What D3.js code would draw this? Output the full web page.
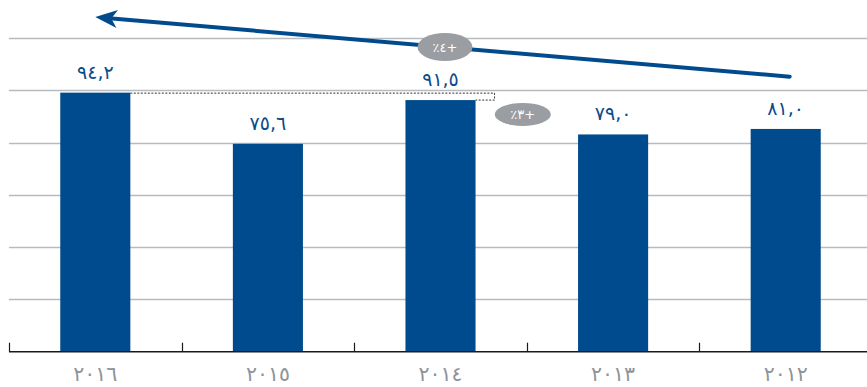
<!DOCTYPE html>
<html>
<head>
<meta charset="utf-8">
<script src="https://cdn.jsdelivr.net/npm/d3@7"></script>
<style>
  html, body { margin: 0; padding: 0; background: #ffffff; }
  svg { display: block; }
  text { font-family: "DejaVu Sans", "Noto Sans", sans-serif; }
</style>
</head>
<body>
<svg id="chart" width="867" height="387"></svg>
<script>
// Years, left to right
const years = ["٢٠١٦", "٢٠١٥", "٢٠١٤", "٢٠١٣", "٢٠١٢"];
// Values per year
const values = [94.2, 75.6, 91.5, 79.0, 81.0];
// Value labels as printed above the bars
const valueLabels = ["٩٤,٢", "٧٥,٦", "٩١,٥", "٧٩,٠", "٨١,٠"];
// Horizontal gridline values
const gridTicks = [19, 38, 57, 76, 95, 114];
// Growth badges
const badgeTexts = ["٪٤+", "٪٣+"];

const W = 867, H = 387;
const margin = { left: 9, right: -5, top: 38.2, bottom: 35.3 };

const svg = d3.select("#chart");

const x = d3.scaleBand()
  .domain(years)
  .range([margin.left, W - margin.right])
  .paddingInner(0.594)
  .paddingOuter(0.297);

const y = d3.scaleLinear()
  .domain([0, 114])
  .range([H - margin.bottom, margin.top]);

const blue = "#004b8d";
const cx = d => x(d) + x.bandwidth() / 2;
const step = x.step();

// Gridlines
svg.append("g")
  .selectAll("line")
  .data(gridTicks)
  .join("line")
  .attr("x1", margin.left)
  .attr("x2", W)
  .attr("y1", d => Math.round(y(d)) + 0.5)
  .attr("y2", d => Math.round(y(d)) + 0.5)
  .attr("stroke", "#b7bbc0")
  .attr("stroke-width", 1.3);

// Bars
svg.append("g")
  .selectAll("rect")
  .data(values)
  .join("rect")
  .attr("x", (d, i) => x(years[i]))
  .attr("width", x.bandwidth())
  .attr("y", d => y(d))
  .attr("height", d => y(0) - y(d))
  .attr("fill", blue);

// Category axis: baseline with short upward ticks at band boundaries
const axisG = svg.append("g");
axisG.append("line")
  .attr("x1", margin.left)
  .attr("x2", W)
  .attr("y1", y(0))
  .attr("y2", y(0))
  .attr("stroke", "#1a1a1a")
  .attr("stroke-width", 1.6);
axisG.selectAll("line.tick")
  .data(years)
  .join("line")
  .attr("class", "tick")
  .attr("x1", d => Math.round(cx(d) - step / 2) + 0.5)
  .attr("x2", d => Math.round(cx(d) - step / 2) + 0.5)
  .attr("y1", y(0))
  .attr("y2", y(0) - 9)
  .attr("stroke", "#1a1a1a")
  .attr("stroke-width", 1.2);

// Year labels
axisG.selectAll("text")
  .data(years)
  .join("text")
  .attr("x", d => cx(d))
  .attr("y", y(0) + 29)
  .attr("text-anchor", "middle")
  .attr("font-size", 20.5)
  .attr("fill", "#8d9399")
  .text(d => d);

// Value labels
svg.append("g")
  .selectAll("text")
  .data(values)
  .join("text")
  .attr("x", (d, i) => cx(years[i]))
  .attr("y", d => y(d) - 14)
  .attr("text-anchor", "middle")
  .attr("font-size", 19)
  .attr("fill", "#0b4a8c")
  .text((d, i) => valueLabels[i]);

// Dashed bracket comparing the 2016 and 2014 bar tops
const bx0 = x(years[0]) + x.bandwidth();
const bx2 = x(years[2]) + x.bandwidth();
const bracketX = bx2 + 19;
svg.append("path")
  .attr("d", `M${bx0},${y(values[0]) + 0.5} H${bracketX} V${y(values[2])} H${bx2}`)
  .attr("fill", "none")
  .attr("stroke", "#333")
  .attr("stroke-width", 1)
  .attr("stroke-dasharray", "2,1.5");

// Trend arrow from 2012 towards 2016
const ax1 = cx(years[4]) + 4, ay1 = y(100);
const ax0 = cx(years[0]), ay0 = y(121.7);
const ang = Math.atan2(ay0 - ay1, ax0 - ax1);
const headLen = 22, headHalf = 9, notch = 16;
const ux = Math.cos(ang), uy = Math.sin(ang);
const px = -uy, py = ux;
svg.append("line")
  .attr("x1", ax1).attr("y1", ay1)
  .attr("x2", ax0 - ux * (notch - 2)).attr("y2", ay0 - uy * (notch - 2))
  .attr("stroke", blue)
  .attr("stroke-width", 4)
  .attr("stroke-linecap", "round");
const head = [
  [ax0, ay0],
  [ax0 - ux * headLen + px * headHalf, ay0 - uy * headLen + py * headHalf],
  [ax0 - ux * notch, ay0 - uy * notch],
  [ax0 - ux * headLen - px * headHalf, ay0 - uy * headLen - py * headHalf]
];
svg.append("path")
  .attr("d", d3.line()(head) + "Z")
  .attr("fill", blue);

// Growth badges
const badges = [
  { text: badgeTexts[0], x: cx(years[2]) + 4.5, y: y(110.8), rx: 27.5, ry: 14 },
  { text: badgeTexts[1], x: cx(years[2]) + step / 2 - 4, y: y(86.3), rx: 28, ry: 11.5 }
];
const bg = svg.append("g").selectAll("g").data(badges).join("g");
bg.append("ellipse")
  .attr("cx", d => d.x)
  .attr("cy", d => d.y)
  .attr("rx", d => d.rx)
  .attr("ry", d => d.ry)
  .attr("fill", "#9a9da2");
bg.append("text")
  .attr("x", d => d.x)
  .attr("y", d => d.y + 5)
  .attr("text-anchor", "middle")
  .attr("font-size", 13)
  .attr("fill", "#ffffff")
  .attr("direction", "ltr")
  .attr("unicode-bidi", "bidi-override")
  .text(d => d.text);
</script>
</body>
</html>
